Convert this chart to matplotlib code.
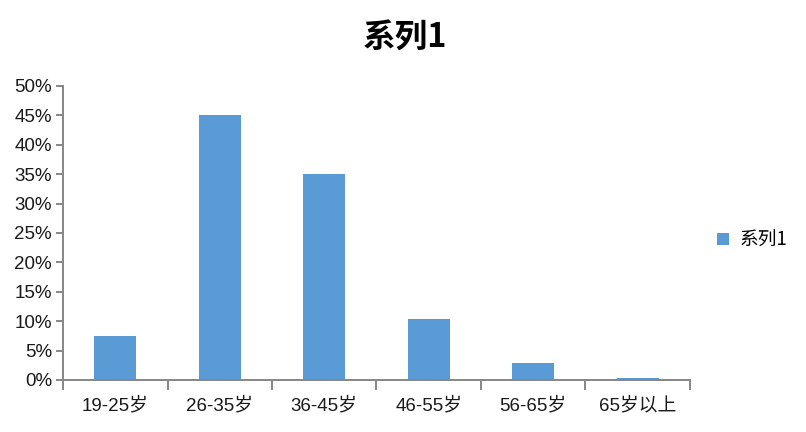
import matplotlib
matplotlib.use("Agg")
import matplotlib.pyplot as plt
import numpy as np
from matplotlib.ticker import FixedLocator, PercentFormatter

plt.rcParams['font.family'] = ['Liberation Sans', 'Noto Sans CJK SC', 'DejaVu Sans']

categories = ['19-25岁', '26-35岁', '36-45岁', '46-55岁', '56-65岁', '65岁以上']
values = [7.5, 45, 35, 10.4, 2.9, 0.3]
series_name = '系列1'
yticks = np.arange(0, 55, 5)

bar_color = '#5B9BD5'
axis_color = '#868686'
text_color = '#1a1a1a'

fig = plt.figure(figsize=(8.06, 4.32), dpi=100)
ax = fig.add_axes([0.0782, 0.1204, 0.856 - 0.0782, 0.801 - 0.1204])

x = np.arange(len(categories))
ax.bar(x, values, width=0.4, color=bar_color, label=series_name, zorder=2)

ax.set_xlim(-0.5, len(categories) - 0.5)
ax.set_ylim(0, 50)
ax.set_yticks(yticks)
ax.yaxis.set_major_formatter(PercentFormatter(decimals=0))

ax.set_xticks(x)
ax.set_xticklabels(categories)
ax.xaxis.set_minor_locator(FixedLocator(np.arange(-0.5, len(categories), 1)))
ax.tick_params(axis='x', which='major', length=0, pad=12, labelsize=13.5, labelcolor=text_color)
ax.tick_params(axis='x', which='minor', length=7, width=1.4, color=axis_color, direction='out')
ax.tick_params(axis='y', length=5, width=1.4, color=axis_color, pad=3, labelsize=13.5, labelcolor=text_color)

for s in ['top', 'right']:
    ax.spines[s].set_visible(False)
for s in ['left', 'bottom']:
    ax.spines[s].set_color(axis_color)
    ax.spines[s].set_linewidth(1.4)

fig.text(0.5025, 0.912, series_name, ha='center', va='center', fontsize=23.5,
         fontweight='bold', color='black', family=['Noto Sans CJK SC', 'DejaVu Sans'])

ax.legend(loc='center left', bbox_to_anchor=(1.017, 0.475), frameon=False,
          handlelength=0.6, handleheight=0.6, handletextpad=0.6,
          prop={'family': ['Noto Sans CJK SC', 'DejaVu Sans'], 'size': 13.5})

fig.savefig('out.png', dpi=100)
